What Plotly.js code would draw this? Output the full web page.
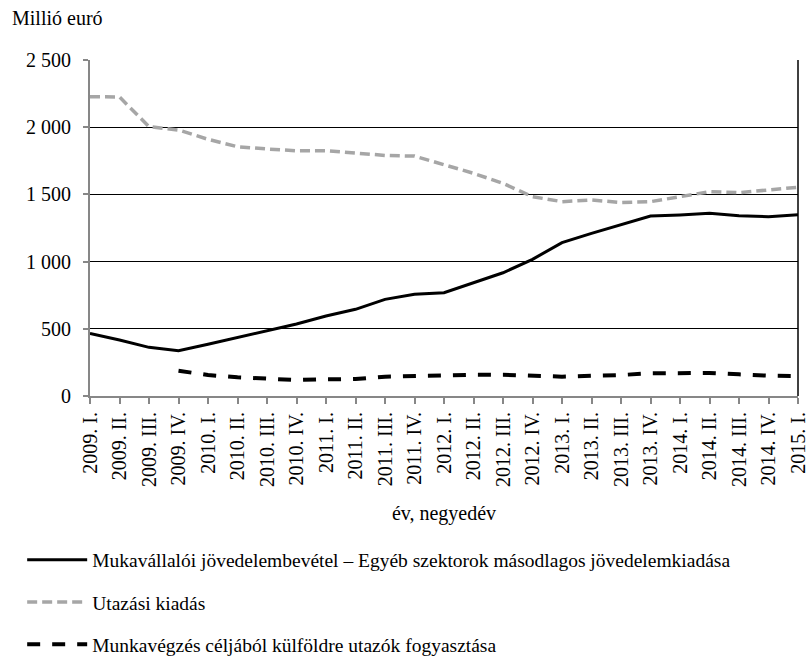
<!DOCTYPE html>
<html>
<head>
<meta charset="utf-8">
<script src="https://cdn.plot.ly/plotly-3.0.1.min.js"></script>
<style>
html,body{margin:0;padding:0;background:#fff;}
#chart{width:806px;height:658px;}
</style>
</head>
<body>
<div id="chart"></div>
<script>
var quarters = ["2009. I.","2009. II.","2009. III.","2009. IV.",
  "2010. I.","2010. II.","2010. III.","2010. IV.",
  "2011. I.","2011. II.","2011. III.","2011. IV.",
  "2012. I.","2012. II.","2012. III.","2012. IV.",
  "2013. I.","2013. II.","2013. III.","2013. IV.",
  "2014. I.","2014. II.","2014. III.","2014. IV.","2015. I."];

var employeeIncome = [466,417,362,337,385,437,486,536,595,645,719,757,769,843,917,1017,1141,1210,1272,1339,1347,1359,1342,1334,1349];
var travelSpending = [2227,2225,2004,1979,1910,1855,1838,1825,1825,1806,1790,1785,1720,1657,1582,1483,1446,1458,1440,1446,1483,1520,1513,1533,1553];
var businessTravel = [null,null,null,188,156,139,132,119,124,126,144,151,155,158,158,149,144,151,156,169,173,171,161,151,149];

var names = ["Mukavállalói jövedelembevétel – Egyéb szektorok másodlagos jövedelemkiadása",
  "Utazási kiadás",
  "Munkavégzés céljából külföldre utazók fogyasztása"];

var font = "Liberation Serif, Times New Roman, serif";

var traces = [
  {x: quarters, y: employeeIncome, name: names[0], type: "scatter", mode: "lines",
   legendgroup: "a", line: {color: "#000000", width: 3}},
  {x: quarters, y: travelSpending, name: names[1], type: "scatter", mode: "lines",
   legendgroup: "b", line: {color: "#A6A6A6", width: 3.5, dash: "10px,5px"}},
  {x: quarters, y: businessTravel, name: names[2], type: "scatter", mode: "lines",
   legendgroup: "c", line: {color: "#000000", width: 4, dash: "13px,12px"}}
];

var layout = {
  width: 806, height: 658,
  margin: {l: 90, r: 8, t: 60, b: 262, autoexpand: false},
  paper_bgcolor: "#ffffff", plot_bgcolor: "#ffffff",
  font: {family: font, size: 20, color: "#000000"},
  separators: ", ",
  showlegend: true,
  legend: {x: -0.0958, xanchor: "left", y: -0.43, yanchor: "top",
    orientation: "v", tracegroupgap: 14, itemwidth: 60,
    font: {family: font, size: 19.5, color: "#000"},
    bgcolor: "rgba(0,0,0,0)"},
  xaxis: {
    type: "category", range: [0, 24], automargin: false,
    showgrid: false, zeroline: false,
    showline: true, linecolor: "#878787", linewidth: 2,
    ticks: "outside", ticklen: 6, tickcolor: "#878787", tickwidth: 2,
    tickangle: -90, tickfont: {family: font, size: 20, color: "#000"},
    title: {text: "év, negyedév", font: {family: font, size: 20, color: "#000"}, standoff: 20}
  },
  yaxis: {
    range: [0, 2500], dtick: 500, tick0: 0, automargin: false,
    tickformat: ",d",
    showgrid: true, gridcolor: "#000000", gridwidth: 1,
    zeroline: false,
    showline: true, linecolor: "#878787", linewidth: 2,
    ticks: "outside", ticklen: 5, tickcolor: "#878787", tickwidth: 2,
    tickfont: {family: font, size: 20, color: "#000"},
    ticklabelstandoff: 8
  },
  shapes: [
    {type: "line", xref: "paper", yref: "paper", x0: 1, x1: 1, y0: 0, y1: 1,
     line: {color: "#000000", width: 1.5}}
  ],
  annotations: [
    {text: "Millió euró", xref: "paper", yref: "paper", x: -0.113, y: 1.125,
     xanchor: "left", yanchor: "middle", showarrow: false,
     font: {family: font, size: 20, color: "#000"}}
  ]
};

Plotly.newPlot("chart", traces, layout, {displayModeBar: false, staticPlot: true});
</script>
</body>
</html>
